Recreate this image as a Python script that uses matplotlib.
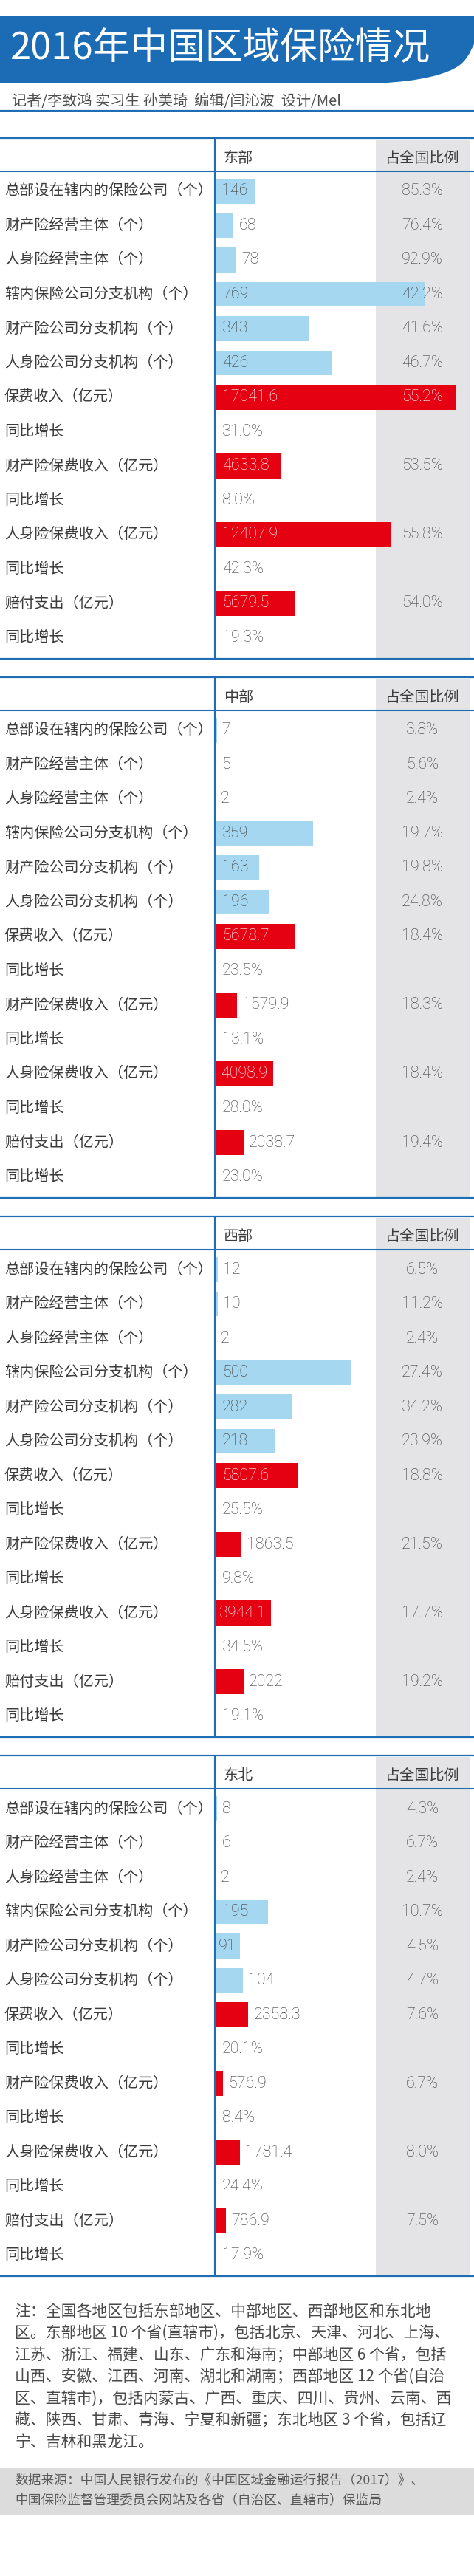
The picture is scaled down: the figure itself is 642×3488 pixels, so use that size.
import matplotlib
matplotlib.use('Agg')
import matplotlib.pyplot as plt
from matplotlib.patches import Rectangle, PathPatch
from matplotlib.path import Path

# ---------------- data ----------------
title = '2016年中国区域保险情况'
byline = '记者/李致鸿 实习生 孙美琦  编辑/闫沁波  设计/Mel'
share_header = '占全国比例'

row_labels = ['总部设在辖内的保险公司（个）', '财产险经营主体（个）', '人身险经营主体（个）',
              '辖内保险公司分支机构（个）', '财产险公司分支机构（个）', '人身险公司分支机构（个）',
              '保费收入（亿元）', '同比增长', '财产险保费收入（亿元）', '同比增长',
              '人身险保费收入（亿元）', '同比增长', '赔付支出（亿元）', '同比增长']
row_kinds = ['count', 'count', 'count', 'count', 'count', 'count',
             'money', 'growth', 'money', 'growth', 'money', 'growth', 'money', 'growth']

regions = ['东部', '中部', '西部', '东北']

east_values = [146, 68, 78, 769, 343, 426, 17041.6, 31.0, 4633.8, 8.0, 12407.9, 42.3, 5679.5, 19.3]
east_share = [85.3, 76.4, 92.9, 42.2, 41.6, 46.7, 55.2, None, 53.5, None, 55.8, None, 54.0, None]

central_values = [7, 5, 2, 359, 163, 196, 5678.7, 23.5, 1579.9, 13.1, 4098.9, 28.0, 2038.7, 23.0]
central_share = [3.8, 5.6, 2.4, 19.7, 19.8, 24.8, 18.4, None, 18.3, None, 18.4, None, 19.4, None]

west_values = [12, 10, 2, 500, 282, 218, 5807.6, 25.5, 1863.5, 9.8, 3944.1, 34.5, 2022, 19.1]
west_share = [6.5, 11.2, 2.4, 27.4, 34.2, 23.9, 18.8, None, 21.5, None, 17.7, None, 19.2, None]

northeast_values = [8, 6, 2, 195, 91, 104, 2358.3, 20.1, 576.9, 8.4, 1781.4, 24.4, 786.9, 17.9]
northeast_share = [4.3, 6.7, 2.4, 10.7, 4.5, 4.7, 7.6, None, 6.7, None, 8.0, None, 7.5, None]

note_lines = ['注：全国各地区包括东部地区、中部地区、西部地区和东北地',
              '区。东部地区 10 个省(直辖市)，包括北京、天津、河北、上海、',
              '江苏、浙江、福建、山东、广东和海南；中部地区 6 个省，包括',
              '山西、安徽、江西、河南、湖北和湖南；西部地区 12 个省(自治',
              '区、直辖市)，包括内蒙古、广西、重庆、四川、贵州、云南、西',
              '藏、陕西、甘肃、青海、宁夏和新疆；东北地区 3 个省，包括辽',
              '宁、吉林和黑龙江。']
source_lines = ['数据来源：中国人民银行发布的《中国区域金融运行报告（2017）》、',
                '中国保险监督管理委员会网站及各省（自治区、直辖市）保监局']

# ---------------- style ----------------
BANNER = '#1b6cb5'
LINE = '#1f6db3'
BAR_BLUE = '#a6d7f0'
BAR_RED = '#e50012'
GRAY_COL = '#e4e4e6'
TXT = '#3c3c3c'
NUM = '#404040'
CJK = ['Noto Sans CJK SC', 'DejaVu Sans']
NUMF = ['Roboto', 'Noto Sans CJK SC', 'DejaVu Sans']
plt.rcParams['font.family'] = CJK

W, H, DPI = 642, 3488, 100
fig = plt.figure(figsize=(W / DPI, H / DPI), dpi=DPI)
fig.patch.set_facecolor('white')


def pix_axes(z):
    ax = fig.add_axes([0, 0, 1, 1], zorder=z)
    ax.set_xlim(0, W)
    ax.set_ylim(H, 0)
    ax.axis('off')
    ax.patch.set_alpha(0)
    return ax


bg = pix_axes(0)
fg = pix_axes(5)

# ---------------- header ----------------
verts = [(0, 21), (W, 21), (W, 60),
         (636, 72), (632, 82), (620, 90),
         (595, 106), (545, 112), (500, 113),
         (0, 113), (0, 21)]
codes = [Path.MOVETO, Path.LINETO, Path.LINETO,
         Path.CURVE4, Path.CURVE4, Path.CURVE4,
         Path.CURVE4, Path.CURVE4, Path.CURVE4,
         Path.LINETO, Path.CLOSEPOLY]
bg.add_patch(PathPatch(Path(verts, codes), facecolor=BANNER, edgecolor='none'))
bg.text(14, 66, title, color='white', fontsize=36.5, va='center', ha='left', family=CJK)
bg.text(16, 137, byline, color='#505050', fontsize=14.5, va='center', ha='left',
        family=CJK, fontweight='light')
bg.plot([0, W], [150, 150], color=LINE, lw=1.6, solid_capstyle='butt')

# ---------------- tables ----------------
tables = [(east_values, east_share), (central_values, central_share),
          (west_values, west_share), (northeast_values, northeast_share)]
table_tops = [187, 917, 1647, 2377]
BAR_X0 = 291
BAR_SPAN = W - BAR_X0
BLUE_PX = 0.37      # pixels per unit (count bars)
RED_PX = 0.0192     # pixels per unit (money bars)
ROW_H = 46.5
N = len(row_labels)
SHARE_X = 572

renderer = fig.canvas.get_renderer()


def fmt_value(v, kind):
    if kind == 'growth':
        return f'{v:.1f}%'
    return f'{v:g}'


for k, (vals, shares) in enumerate(tables):
    top = table_tops[k]
    bottom = top + 705
    bg.add_patch(Rectangle((509, top + 2), 636 - 509, bottom - top - 2,
                           facecolor=GRAY_COL, edgecolor='none'))
    y0 = top + 48.75
    rect = [BAR_X0 / W, 1 - (y0 + N * ROW_H) / H, BAR_SPAN / W, N * ROW_H / H]
    axb = fig.add_axes(rect, zorder=1, label=f'blue{k}')
    axb.set_xlim(0, BAR_SPAN / BLUE_PX)
    axb.set_ylim(N - 0.5, -0.5)
    axb.axis('off')
    axb.patch.set_alpha(0)
    axr = fig.add_axes(rect, zorder=2, label=f'red{k}')
    axr.set_xlim(0, BAR_SPAN / RED_PX)
    axr.set_ylim(N - 0.5, -0.5)
    axr.axis('off')
    axr.patch.set_alpha(0)

    cidx = [i for i, kd in enumerate(row_kinds) if kd == 'count']
    midx = [i for i, kd in enumerate(row_kinds) if kd == 'money']
    axb.barh(cidx, [vals[i] for i in cidx], height=0.73, color=BAR_BLUE, linewidth=0)
    axr.barh(midx, [vals[i] for i in midx], height=0.73, color=BAR_RED, linewidth=0)

    fg.plot([0, W], [top, top], color=LINE, lw=1.6, solid_capstyle='butt')
    fg.plot([0, W], [top + 45, top + 45], color=LINE, lw=1.5, solid_capstyle='butt')
    fg.plot([0, W], [bottom, bottom], color=LINE, lw=1.6, solid_capstyle='butt')
    fg.plot([BAR_X0, BAR_X0], [top, bottom], color=LINE, lw=1.5, solid_capstyle='butt')

    fg.text(303, top + 27, regions[k], color=TXT, fontsize=14.5, va='center', ha='left',
            family=CJK, fontweight='light')
    fg.text(SHARE_X, top + 27, share_header, color=TXT, fontsize=14.5, va='center',
            ha='center', family=CJK, fontweight='light')

    for i in range(N):
        kind = row_kinds[i]
        ax = axb if kind == 'count' else axr
        dx0, dy = ax.transData.transform((0, i))
        yc = H - dy
        x0 = dx0
        fg.text(6, yc, row_labels[i], color=TXT, fontsize=14.5, va='center', ha='left',
                family=CJK, fontweight='light')
        txt = fmt_value(vals[i], kind)
        t = fg.text(x0 + 10, yc, txt, color=NUM, fontsize=15.5, va='center', ha='left',
                    family=NUMF, fontweight='light')
        bar_end = x0
        if kind != 'growth':
            bar_end = ax.transData.transform((vals[i], i))[0]
            w = t.get_window_extent(renderer).width
            bar_w = bar_end - x0
            if bar_w >= w + 6:
                t.set_x(x0 + min(10, max(3, (bar_w - w) / 2)))
                t.set_color('white' if kind == 'money' else NUM)
            else:
                t.set_x(bar_end + 7)
        if shares[i] is not None:
            s = fg.text(SHARE_X, yc, f'{shares[i]:.1f}%', color=NUM, fontsize=15.5,
                        va='center', ha='center', family=NUMF, fontweight='light')
            sw = s.get_window_extent(renderer).width
            if kind == 'money' and bar_end > SHARE_X - sw / 2:
                s.set_color('white')

# ---------------- notes ----------------
for j, line in enumerate(note_lines):
    bg.text(20, 3130 + 29.5 * j, line, color='#4a4a4a', fontsize=15, va='center',
            ha='left', family=CJK, fontweight='light')

bg.add_patch(Rectangle((0, 3342), W, 64, facecolor='#dcdcdc', edgecolor='none'))
for j, line in enumerate(source_lines):
    bg.text(20, 3359 + 27 * j, line, color='#5a5a5a', fontsize=12.8, va='center',
            ha='left', family=CJK, fontweight='light')

fig.savefig('out.png', dpi=DPI, facecolor='white')
